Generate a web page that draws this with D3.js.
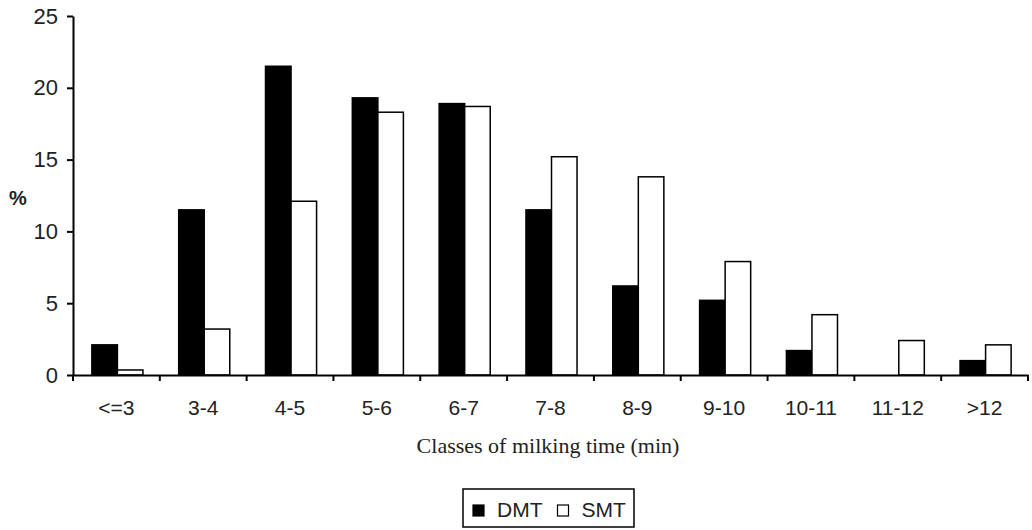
<!DOCTYPE html>
<html>
<head>
<meta charset="utf-8">
<script src="https://cdn.jsdelivr.net/npm/d3@7/dist/d3.min.js"></script>
<style>
  html, body { margin: 0; padding: 0; background: #fff; }
  svg { display: block; }
</style>
</head>
<body>
<svg id="chart" width="1032" height="530"></svg>
<script>
// ─── data ────────────────────────────────────────────────────────────────────
const categories = ['<=3', '3-4', '4-5', '5-6', '6-7', '7-8', '8-9', '9-10', '10-11', '11-12', '>12'];
const seriesNames = ['DMT', 'SMT'];
const dmtValues = [2.1, 11.5, 21.5, 19.3, 18.9, 11.5, 6.2, 5.2, 1.7, 0, 1.0];
const smtValues = [0.35, 3.2, 12.1, 18.3, 18.7, 15.2, 13.8, 7.9, 4.2, 2.4, 2.1];
const yTicks = [0, 5, 10, 15, 20, 25];

// ─── layout ──────────────────────────────────────────────────────────────────
const M = { left: 73, right: 4, top: 16, bottom: 155 };
const W = 1032, H = 530;
const SANS = 'Liberation Sans, Arial, sans-serif';
const svg = d3.select('#chart');

const x0 = d3.scaleBand().domain(categories).range([M.left, W - M.right]).paddingInner(0).paddingOuter(0);
const x1 = d3.scaleBand().domain(seriesNames).range([1, x0.bandwidth() + 1]).paddingInner(0).paddingOuter(0.7);
const y = d3.scaleLinear().domain([0, 25]).range([H - M.bottom, M.top]);

const rows = categories.map((c, i) => ({ cat: c, vals: [
  { s: 'DMT', v: dmtValues[i] },
  { s: 'SMT', v: smtValues[i] },
] }));

const fills = { DMT: '#000', SMT: '#fff' };

// bars
svg.append('g')
  .selectAll('g')
  .data(rows)
  .join('g')
  .attr('transform', (d) => `translate(${x0(d.cat)},0)`)
  .selectAll('rect')
  .data((d) => d.vals.filter((p) => p.v > 0))
  .join('rect')
  .attr('x', (d) => x1(d.s))
  .attr('y', (d) => y(d.v))
  .attr('width', x1.bandwidth())
  .attr('height', (d) => y(0) - y(d.v))
  .attr('fill', (d) => fills[d.s])
  .attr('stroke', '#000')
  .attr('stroke-width', 1.5);

// y axis
const yAxis = svg.append('g')
  .attr('transform', `translate(${M.left},0)`)
  .call(d3.axisLeft(y).tickValues(yTicks).tickSize(6).tickPadding(9).tickSizeOuter(0));
yAxis.select('.domain').attr('stroke', '#000').attr('stroke-width', 2);
yAxis.selectAll('.tick line').attr('stroke', '#000').attr('stroke-width', 2);
yAxis.selectAll('.tick text')
  .attr('font-family', SANS)
  .attr('font-size', 22)
  .attr('fill', '#222');

// x axis: labels centered, ticks at band boundaries
const xAxis = svg.append('g')
  .attr('transform', `translate(0,${y(0)})`)
  .call(d3.axisBottom(x0).tickSize(0).tickPadding(25).tickSizeOuter(0));
xAxis.select('.domain').attr('stroke', '#000').attr('stroke-width', 2);
xAxis.selectAll('.tick text')
  .attr('font-family', SANS)
  .attr('font-size', 21)
  .attr('fill', '#222');

const bounds = categories.map((c) => x0(c)).concat([x0.range()[1]]);
xAxis.selectAll('line.bound')
  .data(bounds)
  .join('line')
  .attr('class', 'bound')
  .attr('x1', (d) => d).attr('x2', (d) => d)
  .attr('y1', 0).attr('y2', 6)
  .attr('stroke', '#000').attr('stroke-width', 2);

// axis titles
svg.append('text')
  .attr('x', 18).attr('y', 205)
  .attr('text-anchor', 'middle')
  .attr('font-family', SANS)
  .attr('font-size', 20)
  .attr('font-weight', 'bold')
  .attr('fill', '#222')
  .text('%');

svg.append('text')
  .attr('x', 548)
  .attr('y', 453)
  .attr('text-anchor', 'middle')
  .attr('font-family', 'Liberation Serif, Times New Roman, serif')
  .attr('font-size', 22)
  .attr('fill', '#222')
  .text('Classes of milking time (min)');

// legend
const lg = svg.append('g').attr('transform', 'translate(463,489)');
lg.append('rect')
  .attr('width', 171).attr('height', 38)
  .attr('fill', '#fff').attr('stroke', '#000').attr('stroke-width', 1.5);
let lx = 10;
seriesNames.forEach((s) => {
  lg.append('rect')
    .attr('x', lx).attr('y', 16).attr('width', 11).attr('height', 11)
    .attr('fill', fills[s]).attr('stroke', '#000').attr('stroke-width', 1.2);
  const t = lg.append('text')
    .attr('x', lx + 24).attr('y', 28)
    .attr('font-family', SANS)
    .attr('font-size', 21)
    .attr('fill', '#222')
    .text(s);
  lx += 24 + t.node().getComputedTextLength() + 15;
});
</script>
</body>
</html>
